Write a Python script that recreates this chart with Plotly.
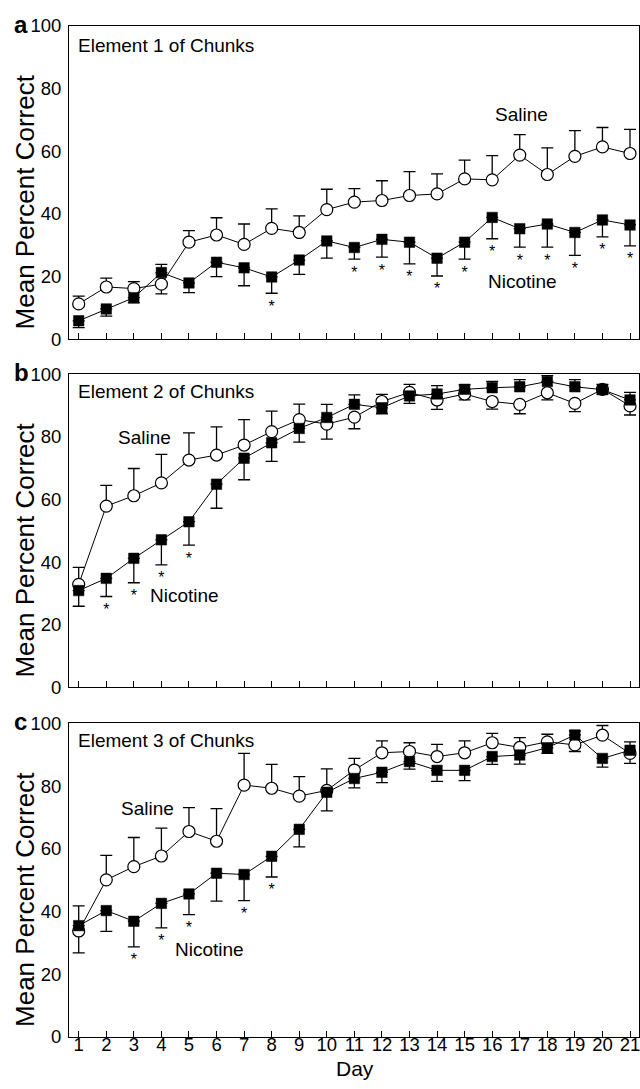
import plotly.graph_objects as go

days = list(range(1, 22))

# Panel a: Element 1 of Chunks
sal_a = [11.3, 16.7, 16.2, 17.6, 31.0, 33.3, 30.3, 35.4, 34.1, 41.4, 43.8, 44.3, 45.9, 46.4, 51.2, 50.9, 58.8, 52.6, 58.4, 61.4, 59.3]
sal_a_err = [2.5, 2.8, 2.2, -3.1, 3.7, 5.5, 6.5, 6.2, 5.3, 6.5, 4.3, 6.3, 7.6, 6.4, 6.0, 7.7, 6.5, 8.5, 8.2, 6.2, 7.7]
nic_a = [5.9, 9.7, 13.3, 21.3, 18.0, 24.6, 22.8, 19.9, 25.3, 31.4, 29.3, 31.9, 31.0, 25.9, 31.0, 38.9, 35.3, 36.8, 34.1, 38.1, 36.5]
nic_a_err = [-2.2, -2.3, -1.7, 2.6, -3.1, -4.6, -5.7, -5.2, -4.6, -5.5, -3.7, -5.7, -6.9, -5.7, -5.4, -6.8, -5.9, -7.4, -7.3, -5.4, -6.7]
sig_a = [8, 11, 12, 13, 14, 15, 16, 17, 18, 19, 20, 21]

# Panel b: Element 2 of Chunks
sal_b = [32.9, 57.9, 61.2, 65.3, 72.6, 74.2, 77.4, 81.7, 85.5, 84.1, 86.3, 91.3, 94.2, 91.8, 93.7, 91.3, 90.4, 94.1, 90.7, 95.2, 89.9]
sal_b_err = [5.4, 6.6, 8.7, 9.1, 8.7, 9.0, 8.1, 6.5, 5.0, -4.8, -3.7, 2.3, 2.6, -3.0, -1.9, -2.4, -3.0, -2.3, -2.6, -1.5, -2.9]
nic_b = [30.9, 34.8, 41.2, 47.1, 52.9, 64.9, 73.2, 78.1, 82.7, 86.2, 90.4, 89.3, 93.1, 93.7, 95.2, 95.7, 96.0, 97.7, 96.0, 95.1, 91.8]
nic_b_err = [-5.0, -5.8, -7.8, -8.0, -7.5, -7.7, -6.9, -5.9, -4.4, 4.2, 3.0, -1.9, -2.4, 2.7, 1.4, 2.0, 2.3, 1.9, 2.3, 1.7, 2.4]
sig_b = [2, 3, 4, 5]

# Panel c: Element 3 of Chunks
sal_c = [33.8, 50.1, 54.3, 57.7, 65.5, 62.4, 80.3, 79.3, 76.8, 78.6, 85.1, 90.6, 91.0, 89.4, 90.6, 93.8, 92.3, 94.1, 93.1, 96.2, 90.4]
sal_c_err = [-7.0, 7.8, 9.3, 8.9, 7.6, 10.4, 10.1, 7.6, 6.2, 6.9, 3.7, 3.8, 2.8, 3.9, 3.8, 3.0, 3.1, 2.4, -2.1, 3.1, -3.2]
nic_c = [35.5, 40.3, 36.9, 42.6, 45.6, 52.2, 51.8, 57.6, 66.2, 78.0, 82.4, 84.4, 87.8, 85.0, 85.0, 89.4, 89.9, 92.2, 96.3, 88.8, 91.4]
nic_c_err = [6.3, -6.6, -8.2, -7.8, -6.6, -8.9, -8.3, -6.6, -5.6, -5.9, -3.0, -3.3, -2.4, -3.5, -3.3, -2.5, -2.9, -1.8, 1.3, -2.8, 2.7]
sig_c = [3, 4, 5, 7, 8]

panel_titles = ["Element 1 of Chunks", "Element 2 of Chunks", "Element 3 of Chunks"]
panel_letters = ["a", "b", "c"]
y_ticks = [0, 20, 40, 60, 80, 100]
FONT = "Arial, Liberation Sans, Helvetica, sans-serif"

panels = [
    (sal_a, sal_a_err, nic_a, nic_a_err, sig_a),
    (sal_b, sal_b_err, nic_b, nic_b_err, sig_b),
    (sal_c, sal_c_err, nic_c, nic_c_err, sig_c),
]
# label positions (day, value) for series names per panel
label_pos = [
    ((17.07, 71.7), (17.1, 18.4)),
    ((3.39, 79.8), (4.85, 29.4)),
    ((3.49, 72.9), (5.76, 27.9)),
]

# vertical domains (paper)
domains = [[0.6901, 1.0], [0.3459, 0.6555], [0.0, 0.3103]]

fig = go.Figure()

def err_parts(errs):
    up = [e if e > 0 else 0 for e in errs]
    dn = [-e if e < 0 else 0 for e in errs]
    return up, dn

annotations = []
for i, (sal, sal_err, nic, nic_err, sig) in enumerate(panels):
    xa = "x" if i == 0 else f"x{i+1}"
    ya = "y" if i == 0 else f"y{i+1}"
    su, sd = err_parts(sal_err)
    nu, nd = err_parts(nic_err)
    fig.add_trace(go.Scatter(
        x=days, y=sal, xaxis=xa, yaxis=ya, mode="lines+markers", name="Saline",
        line=dict(color="black", width=1),
        marker=dict(symbol="circle", size=12, color="white", line=dict(color="black", width=1.2)),
        error_y=dict(type="data", symmetric=False, array=su, arrayminus=sd,
                     color="black", thickness=1.3, width=6),
        showlegend=False, hoverinfo="skip"))
    fig.add_trace(go.Scatter(
        x=days, y=nic, xaxis=xa, yaxis=ya, mode="lines+markers", name="Nicotine",
        line=dict(color="black", width=1),
        marker=dict(symbol="square", size=10.5, color="black", line=dict(color="black", width=0.5)),
        error_y=dict(type="data", symmetric=False, array=nu, arrayminus=nd,
                     color="black", thickness=1.3, width=6),
        showlegend=False, hoverinfo="skip"))
    # significance asterisks below nicotine error bars
    star_y = []
    for d in sig:
        k = d - 1
        low = nic[k] - (nd[k])
        star_y.append(low - 4.6)
    fig.add_trace(go.Scatter(
        x=sig, y=star_y, xaxis=xa, yaxis=ya, mode="text", text=["*"] * len(sig),
        textposition="middle center", textfont=dict(family=FONT, size=16, color="black"),
        showlegend=False, hoverinfo="skip"))

    dom_ref = f"{ya} domain"
    (sx, sy), (nx, ny) = label_pos[i]
    annotations.append(dict(x=sx, y=sy, xref=xa, yref=ya, text="Saline", showarrow=False,
                            font=dict(family=FONT, size=19, color="black"), xanchor="center", yanchor="middle"))
    annotations.append(dict(x=nx, y=ny, xref=xa, yref=ya, text="Nicotine", showarrow=False,
                            font=dict(family=FONT, size=19, color="black"), xanchor="center", yanchor="middle"))
    annotations.append(dict(x=1, y=0.937 if i == 0 else 0.945, xref=xa, yref=dom_ref, text=panel_titles[i],
                            showarrow=False, font=dict(family=FONT, size=19, color="black"),
                            xanchor="left", yanchor="middle", xshift=-3))
    annotations.append(dict(x=-0.0772, y=0.44, xref="paper", yref=dom_ref, text="Mean Percent Correct",
                            showarrow=False, textangle=-90, font=dict(family=FONT, size=26, color="black"),
                            xanchor="center", yanchor="middle"))
    annotations.append(dict(x=-0.1, y=1.0, xref="paper", yref=dom_ref, text=f"<b>{panel_letters[i]}</b>",
                            showarrow=False, font=dict(family=FONT, size=24, color="black"),
                            xanchor="left", yanchor="middle", yshift=2))

    xkey = "xaxis" if i == 0 else f"xaxis{i+1}"
    ykey = "yaxis" if i == 0 else f"yaxis{i+1}"
    fig.layout[xkey] = dict(
        domain=[0, 1], anchor=ya, range=[0.648, 21.326], tickmode="array", tickvals=days,
        ticktext=[str(d) for d in days], showticklabels=(i == 2),
        ticks="inside", ticklen=6, tickwidth=1, tickcolor="black",
        showline=True, linecolor="black", linewidth=1, mirror=True,
        showgrid=False, zeroline=False, ticklabeloverflow="allow", ticklabelstandoff=-9,
        tickfont=dict(family=FONT, size=18.5, color="black"),
    )
    fig.layout[ykey] = dict(
        domain=domains[i], anchor=xa, range=[0, 100], tickmode="array", tickvals=y_ticks,
        ticks="", showline=True, linecolor="black", linewidth=1, mirror=True,
        showgrid=False, zeroline=False, ticklabelstandoff=3,
        tickfont=dict(family=FONT, size=18.5, color="black"),
    )

annotations.append(dict(x=0.502, y=0, xref="paper", yref="paper", text="Day", showarrow=False,
                        font=dict(family=FONT, size=21, color="black"), xanchor="center",
                        yanchor="middle", yshift=-31))

fig.update_layout(
    width=640, height=1089,
    margin=dict(l=69, r=1, t=26, b=52),
    paper_bgcolor="white", plot_bgcolor="white",
    annotations=annotations,
    font=dict(family=FONT, color="black"),
)

fig.write_html("out.html", config={"displayModeBar": False},
               post_script="document.body.style.margin='0';document.body.style.overflow='hidden';")
